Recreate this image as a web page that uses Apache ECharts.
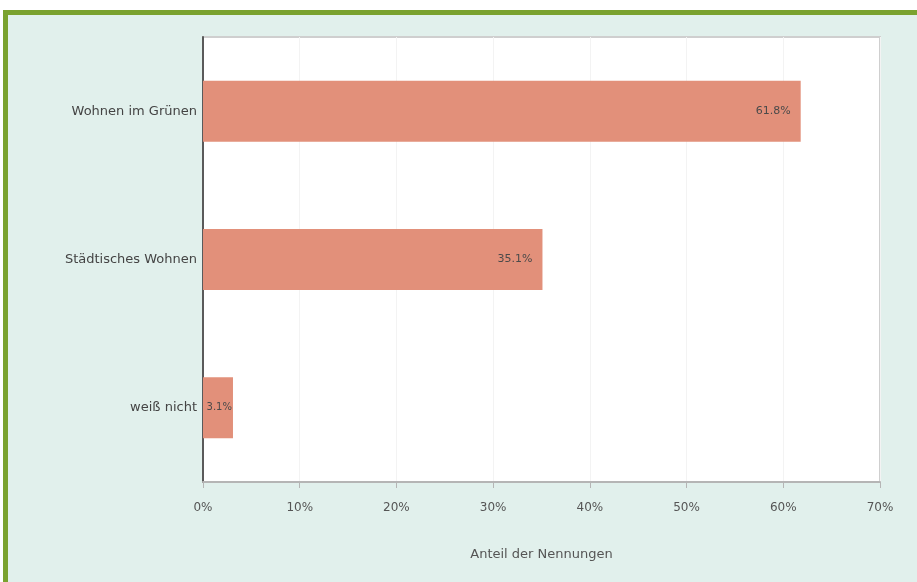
<!DOCTYPE html>
<html>
<head>
<meta charset="utf-8">
<script src="https://cdn.jsdelivr.net/npm/echarts@6/dist/echarts.min.js"></script>
<style>
  html, body { margin: 0; padding: 0; background: #fff; }
  .frame {
    position: absolute; left: 3px; top: 10px; right: 0; bottom: 0;
    border-top: 5px solid #7aa22f; border-left: 5px solid #7aa22f;
    background: #e1f0ec;
  }
  #chart { position: absolute; left: 0; top: 0; width: 917px; height: 582px; }
</style>
</head>
<body>
<div class="frame"></div>
<div id="chart"></div>
<script>
  // Kategorien (von oben nach unten)
  var categories = ['Wohnen im Grünen', 'Städtisches Wohnen', 'weiß nicht'];
  // Anteil der Nennungen in %
  var shares = [61.8, 35.1, 3.1];
  var ticks = [0, 10, 20, 30, 40, 50, 60, 70];

  var font = 'DejaVu Sans, Arial';
  var chart = echarts.init(document.getElementById('chart'));

  // schmale Balken: Beschriftung kleiner und dichter ans Ende
  var barData = shares.map(function (v) {
    return v < 5 ? { value: v, label: { distance: 1, fontSize: 10 } } : v;
  });

  var option = {
    animation: false,
    grid: {
      left: 203,
      right: 37,
      top: 37,
      bottom: 100,
      show: true,
      backgroundColor: '#ffffff',
      borderColor: '#cfcfcf',
      borderWidth: 2
    },
    xAxis: {
      type: 'value',
      min: ticks[0],
      max: ticks[ticks.length - 1],
      interval: 10,
      name: 'Anteil der Nennungen',
      nameLocation: 'middle',
      nameGap: 66,
      nameTextStyle: { color: '#555', fontSize: 13, fontFamily: font },
      axisLine: { show: true, lineStyle: { color: '#b5b5b5', width: 2 } },
      axisTick: { show: true, length: 6, lineStyle: { color: '#b5b5b5' } },
      axisLabel: {
        color: '#555',
        fontSize: 12,
        margin: 20,
        fontFamily: font,
        formatter: function (v) { return v + '%'; }
      },
      splitLine: { show: true, lineStyle: { color: '#f3f3f3' } }
    },
    yAxis: {
      type: 'category',
      data: categories,
      inverse: true,
      axisLine: { show: true, lineStyle: { color: '#5a5a5a', width: 2 } },
      axisTick: { show: false },
      axisLabel: {
        color: '#444',
        fontSize: 13,
        margin: 6,
        fontFamily: font
      }
    },
    series: [{
      type: 'bar',
      data: barData,
      barWidth: 61,
      itemStyle: { color: '#e2907a' },
      label: {
        show: true,
        position: 'insideRight',
        distance: 10,
        color: '#4a4a4a',
        fontSize: 11,
        fontFamily: font,
        formatter: function (p) { return p.value.toFixed(1) + '%'; }
      }
    }]
  };

  chart.setOption(option);
</script>
</body>
</html>
